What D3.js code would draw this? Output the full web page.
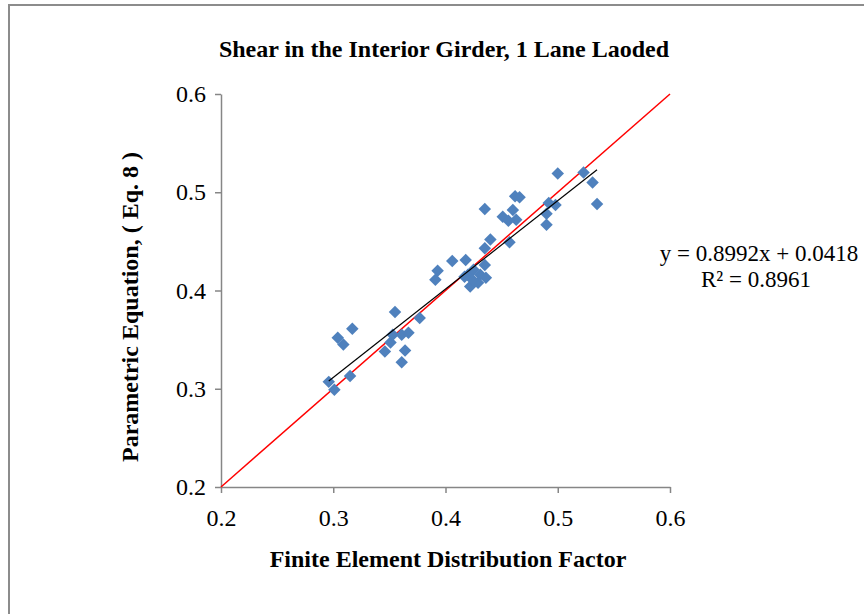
<!DOCTYPE html>
<html><head><meta charset="utf-8">
<script src="https://cdn.jsdelivr.net/npm/d3@7/dist/d3.min.js"></script>
<style>body{margin:0;background:#fff}svg{display:block}</style>
</head><body>
<script>
const title = "Shear in the Interior Girder, 1 Lane Laoded";
const xTitle = "Finite Element Distribution Factor";
const yTitle = "Parametric Equation, ( Eq. 8 )";
const xTicks = [0.2, 0.3, 0.4, 0.5, 0.6];
const yTicks = [0.2, 0.3, 0.4, 0.5, 0.6];
const feValues = [0.296,0.301,0.315,0.304,0.309,0.317,0.355,0.377,0.346,0.351,0.353,0.361,0.367,0.364,0.361,
  0.393,0.391,0.406,0.418,0.435,0.422,0.420,0.425,0.431,0.436,0.429,0.424,0.417,
  0.435,0.440,0.457,0.435,0.462,0.466,0.460,0.451,0.463,0.456,
  0.492,0.498,0.490,0.490,0.500,0.523,0.531,0.535];
const eqValues = [0.307,0.299,0.313,0.352,0.345,0.361,0.378,0.372,0.338,0.347,0.355,0.355,0.357,0.339,0.327,
  0.420,0.411,0.430,0.431,0.426,0.404,0.416,0.421,0.416,0.413,0.408,0.411,0.414,
  0.443,0.452,0.449,0.483,0.496,0.495,0.482,0.475,0.472,0.471,
  0.489,0.487,0.478,0.467,0.519,0.520,0.510,0.488];
const slope = 0.8992, intercept = 0.0418, r2 = 0.8961;
const eqLabel = "y = 0.8992x + 0.0418";
const r2Label = "R\u00B2 = 0.8961";

const W = 864, H = 614;
const svg = d3.select("body").append("svg").attr("width", W).attr("height", H);
svg.append("rect").attr("width", W).attr("height", H).attr("fill", "#fff");
svg.append("path").attr("d", `M9,${H+5}V5H${W+5}`).attr("fill","none").attr("stroke","#8c8c8c").attr("stroke-width",2);

const x = d3.scaleLinear().domain([0.2, 0.6]).range([221, 670]);
const y = d3.scaleLinear().domain([0.2, 0.6]).range([487, 94]);
const font = "'Liberation Serif','Times New Roman',serif";

const xa = svg.append("g").attr("transform", "translate(0,487)")
  .call(d3.axisBottom(x).tickValues(xTicks).tickFormat(d3.format(".1f")).tickSizeInner(6).tickSizeOuter(0).tickPadding(16));
const ya = svg.append("g").attr("transform", "translate(221,0)")
  .call(d3.axisLeft(y).tickValues(yTicks).tickFormat(d3.format(".1f")).tickSizeInner(6).tickSizeOuter(0).tickPadding(9));
[xa, ya].forEach(a => {
  a.select(".domain").attr("stroke", "#868686").attr("stroke-width", 1.5);
  a.selectAll(".tick line").attr("stroke", "#868686").attr("stroke-width", 1.5);
  a.selectAll(".tick text").attr("fill", "#000").style("font-family", font).style("font-size", "24px");
});

// 1:1 line
svg.append("line").attr("x1", x(0.2)).attr("y1", y(0.2)).attr("x2", x(0.6)).attr("y2", y(0.6))
  .attr("stroke", "#ff0000").attr("stroke-width", 1.5);

// points
const pts = feValues.map((v, i) => [v, eqValues[i]]);
svg.append("g").selectAll("path").data(pts).join("path")
  .attr("d", d3.symbol(d3.symbolSquare, 78))
  .attr("transform", d => `translate(${x(d[0])},${y(d[1])}) rotate(45)`)
  .attr("fill", "#4f81bd");

// trendline
const xmin = d3.min(feValues), xmax = d3.max(feValues);
svg.append("line").attr("x1", x(xmin)).attr("y1", y(slope*xmin+intercept))
  .attr("x2", x(xmax)).attr("y2", y(slope*xmax+intercept))
  .attr("stroke", "#000").attr("stroke-width", 1.2);

svg.append("text").attr("x", 444).attr("y", 57).attr("text-anchor", "middle")
  .style("font-family", font).style("font-size", "24px").style("font-weight", "bold").text(title);
svg.append("text").attr("x", 448).attr("y", 567).attr("text-anchor", "middle")
  .style("font-family", font).style("font-size", "24px").style("font-weight", "bold").text(xTitle);
svg.append("text").attr("transform", "translate(138,307) rotate(-90)").attr("text-anchor", "middle")
  .style("font-family", font).style("font-size", "24px").style("font-weight", "bold").text(yTitle);
svg.append("text").attr("x", 759).attr("y", 261).attr("text-anchor", "middle")
  .style("font-family", font).style("font-size", "23px").text(eqLabel);
svg.append("text").attr("x", 756).attr("y", 287).attr("text-anchor", "middle")
  .style("font-family", font).style("font-size", "23px").text(r2Label);
</script>
</body></html>
